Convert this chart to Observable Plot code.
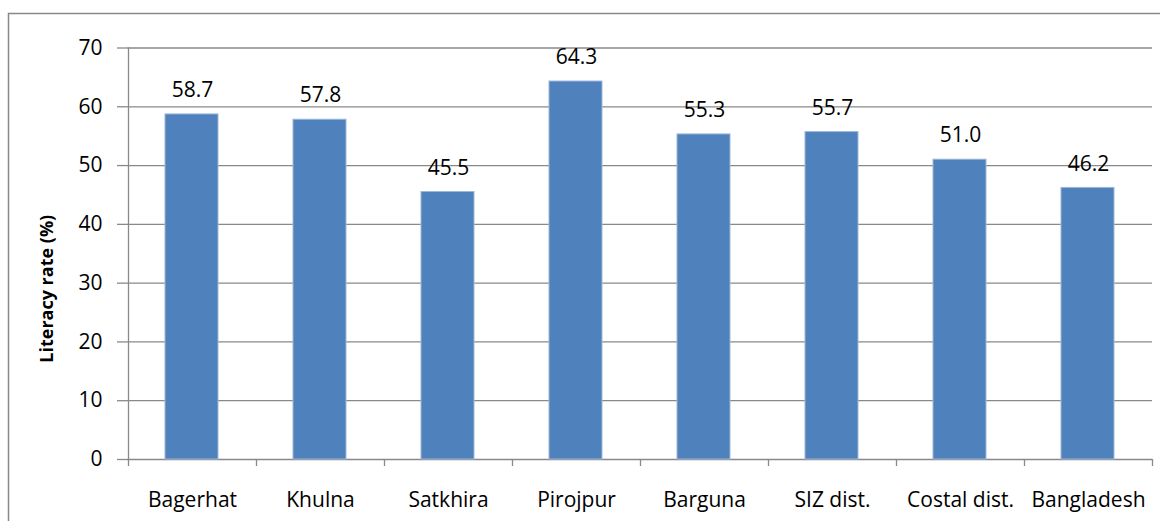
<!DOCTYPE html>
<html><head><meta charset="utf-8">
<script src="https://cdn.jsdelivr.net/npm/d3@7"></script>
<script src="https://cdn.jsdelivr.net/npm/@observablehq/plot@0.6"></script>
<style>html,body{margin:0;padding:0;background:#fff;overflow:hidden}</style>
</head><body><div id="chart"></div>
<script>
const categories = ["Bagerhat", "Khulna", "Satkhira", "Pirojpur", "Barguna", "SIZ dist.", "Costal dist.", "Bangladesh"];
const literacy = [58.7, 57.8, 45.5, 64.3, 55.3, 55.7, 51.0, 46.2];
const yTicks = [0, 10, 20, 30, 40, 50, 60, 70];
const yTitle = "Literacy rate (%)";

const data = categories.map((c, i) => ({category: c, value: literacy[i]}));
const font = "'Open Sans', Lato, sans-serif";
const grid = "#898989";
const halfStep = 64;

const chart = Plot.plot({
  width: 1160, height: 521,
  marginLeft: 127, marginRight: 8, marginTop: 47.5, marginBottom: 62,
  style: {fontFamily: font, fontSize: "21px", color: "#000", background: "#fff"},
  x: {domain: categories, padding: 0, label: null},
  y: {domain: [0, 70], label: null},
  marks: [
    Plot.ruleY(yTicks, {stroke: grid, strokeWidth: 1.3}),
    Plot.ruleX([categories[0]], {x: d => d, dx: -halfStep, y1: 0, y2: 70, stroke: grid, strokeWidth: 1.3}),
    Plot.ruleX(categories, {x: d => d, dx: -halfStep, y1: 0, y2: 0, insetBottom: -7, stroke: grid, strokeWidth: 1.3}),
    Plot.ruleX([categories[categories.length - 1]], {x: d => d, dx: halfStep, y1: 0, y2: 0, insetBottom: -7, stroke: grid, strokeWidth: 1.3}),
    Plot.axisY({ticks: yTicks, tickSize: 10, tickPadding: 15, stroke: grid, strokeWidth: 1.3, fill: "#000", fontSize: 21, label: null}),
    Plot.axisX({tickSize: 0, tickPadding: 33, fill: "#000", fontSize: 21, label: null}),
    Plot.barY(data, {x: "category", y: "value", fill: "#4F81BD", stroke: "#9DB8DA", strokeWidth: 1, insetLeft: 37, insetRight: 38}),
    Plot.text(data, {x: "category", y: "value", text: d => d.value.toFixed(1), dy: -24, fontSize: 21, fill: "#000"}),
    Plot.text([yTitle], {frameAnchor: "left", textAnchor: "middle", rotate: -90, dx: -80, dy: 35, fontSize: 18, fontWeight: "bold", fill: "#000"})
  ]
});
document.getElementById("chart").append(chart);

// outer chart-area border (top and left edges visible in the crop)
const svg = d3.select(chart);
svg.append("path")
  .attr("d", "M8.5,521 V13.5 H1160")
  .attr("fill", "none")
  .attr("stroke", grid)
  .attr("stroke-width", 1.5);
</script>
</body></html>
